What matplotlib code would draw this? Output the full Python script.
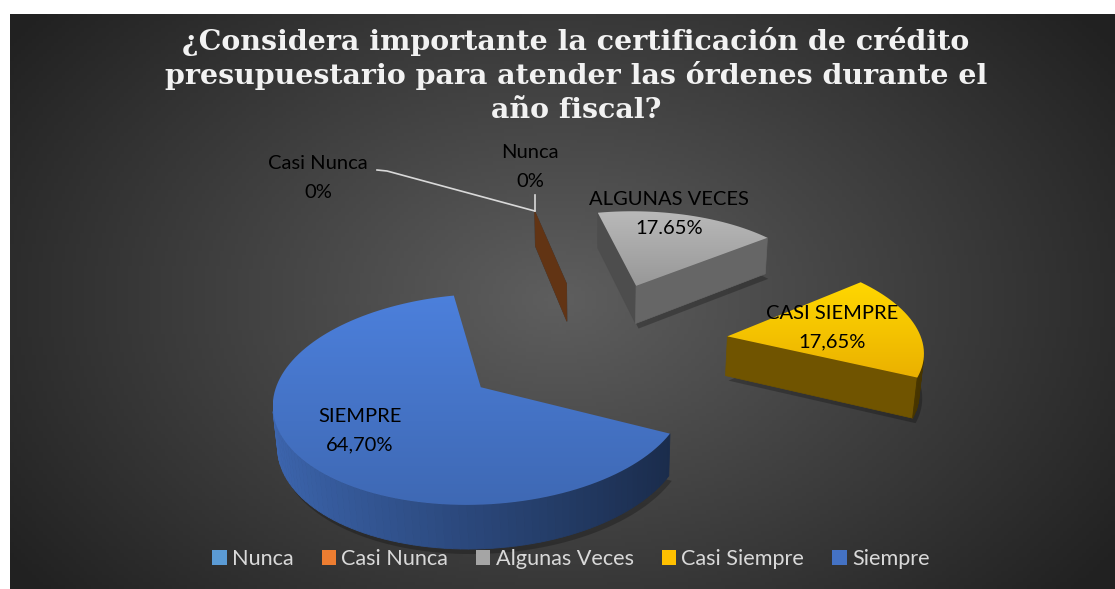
import numpy as np
import matplotlib.pyplot as plt
from matplotlib.patches import Polygon, Rectangle
from matplotlib.colors import to_rgb

# chart data
title_lines = ['¿Considera importante la certificación de crédito',
               'presupuestario para atender las órdenes durante el',
               'año fiscal?']
categories = ['Nunca', 'Casi Nunca', 'Algunas Veces', 'Casi Siempre', 'Siempre']
values = [0.0, 0.0, 17.65, 17.65, 64.70]
point_labels = ['Nunca\n0%', 'Casi Nunca\n0%', 'ALGUNAS VECES\n17.65%',
                'CASI SIEMPRE\n17,65%', 'SIEMPRE\n64,70%']
colors = ['#5B9BD5', '#ED7D31', '#A5A5A5', '#FFC000', '#4472C4']
explode = [0.70, 0.70, 0.70, 0.70, 0.70]
side_shade = [0.55, 0.55, 0.62, 0.44, 0.6]

# 3d view (pixel units of the 1115x589 canvas)
W, H = 1115, 589
CX, CY = 593, 344
SCALE = 195
ROT = np.radians(-12)
ELEV = np.radians(29)
DIST = 8.0
THICK = 0.235

def project(X, Y, Z):
    v = Y * np.sin(ELEV) + Z * np.cos(ELEV)
    w = Y * np.cos(ELEV) - Z * np.sin(ELEV)
    f = DIST / (DIST + w)
    return CX + SCALE * X * f, CY - SCALE * v * f

def direction(phi):
    a = np.radians(phi) + ROT
    return np.sin(a), np.cos(a)

cam = np.array([0.0, -DIST * np.cos(ELEV), DIST * np.sin(ELEV)])

def visible(normal, point):
    return np.dot(normal, cam - np.asarray(point)) > 0

def shade(c, k):
    return tuple(np.clip(np.array(to_rgb(c)) * k, 0, 1))

fig = plt.figure(figsize=(W / 100, H / 100), dpi=100, facecolor='white')
ax = fig.add_axes([0, 0, 1, 1])
ax.set_xlim(0, W)
ax.set_ylim(H, 0)
ax.axis('off')

# dark radial background of the chart area
gx, gy = np.meshgrid(np.linspace(10, W, 300), np.linspace(14, H, 160))
r = np.sqrt(((gx - 560) / 620) ** 2 + ((gy - 300) / 420) ** 2)
g = np.clip(0.37 - 0.22 * r, 0.13, 0.4)
ax.imshow(np.dstack([g, g, g]), extent=[10, W, H, 14], aspect='auto', zorder=0)

def grad_fill(pts, c_top, c_bot, z):
    poly = Polygon(pts, closed=True, facecolor='none', edgecolor='none', zorder=z)
    ax.add_patch(poly)
    y0, y1 = pts[:, 1].min(), pts[:, 1].max()
    t = np.linspace(0, 1, 64)[:, None]
    img = (1 - t) * np.array(to_rgb(c_top)) + t * np.array(to_rgb(c_bot))
    img = np.repeat(img[:, None, :], 2, axis=1)
    im = ax.imshow(img, extent=[pts[:, 0].min(), pts[:, 0].max(), y1, y0],
                   aspect='auto', zorder=z, interpolation='bilinear')
    im.set_clip_path(poly)

total = sum(values)
bounds = np.concatenate([[0], np.cumsum(values)]) / total * 360

slices = []
for i, cat in enumerate(categories):
    a0, a1 = bounds[i], bounds[i + 1]
    ox, oy = np.array(direction((a0 + a1) / 2)) * explode[i]
    angs = np.linspace(a0, a1, max(2, int((a1 - a0) / 2)))
    rim = np.array([direction(a) for a in angs]) + [ox, oy]
    depth = np.mean(np.r_[rim[:, 1], oy])
    slices.append((depth, i, a0, a1, ox, oy, angs, rim))

z = 2
for depth, i, a0, a1, ox, oy, angs, rim in sorted(slices, key=lambda s: -s[0]):
    c = colors[i]
    k = side_shade[i]
    # soft shadow under the slice
    base = [project(x, y, -THICK) for x, y in np.r_[[[ox, oy]], rim]]
    sh = np.array(base) + [3, 5]
    ax.add_patch(Polygon(sh, closed=True, facecolor='black', alpha=0.25,
                         edgecolor='none', zorder=z))
    z += 1
    # radial walls
    for a, sgn in ((a0, -1), (a1, 1)):
        dx, dy = direction(a)
        tx, ty = dy, -dx
        n = np.array([sgn * tx, sgn * ty, 0])
        p_out = (ox + dx, oy + dy)
        mid = (ox + dx / 2, oy + dy / 2, -THICK / 2)
        if visible(n, mid):
            quad = [project(ox, oy, 0), project(*p_out, 0),
                    project(*p_out, -THICK), project(ox, oy, -THICK)]
            kk = k if sgn > 0 else k * 0.75
            ax.add_patch(Polygon(quad, closed=True, facecolor=shade(c, kk),
                                 edgecolor=shade(c, kk), lw=0.5, zorder=z))
    z += 1
    # outer wall
    for j in range(len(angs) - 1):
        am = (angs[j] + angs[j + 1]) / 2
        nx, ny = direction(am)
        p = (ox + nx, oy + ny, -THICK / 2)
        if visible(np.array([nx, ny, 0]), p):
            quad = [project(*rim[j], 0), project(*rim[j + 1], 0),
                    project(*rim[j + 1], -THICK), project(*rim[j], -THICK)]
            kk = k * (1.05 - 0.45 * nx)
            ax.add_patch(Polygon(quad, closed=True, facecolor=shade(c, kk),
                                 edgecolor=shade(c, kk), lw=0.6, zorder=z))
    z += 1
    # top face
    if a1 > a0:
        top = np.array([project(ox, oy, 0)] + [project(x, y, 0) for x, y in rim])
        grad_fill(top, shade(c, 1.12), shade(c, 0.92), z)
    z += 1

ax.set_xlim(0, W)
ax.set_ylim(H, 0)

# title
for line, y in zip(title_lines, [42, 76, 110]):
    ax.text(576, y, line, ha='center', va='center', color='#F2F2F2',
            fontsize=20.5, fontweight='bold', family='DejaVu Serif', zorder=50)

# data labels
lab_font = dict(ha='center', va='center', color='black', fontsize=14.5,
                family='Lato', linespacing=1.8, zorder=50)
label_pos = [(530, 167), (318, 178), (669, 214), (832, 328), (360, 431)]
for txt, (x, y) in zip(point_labels, label_pos):
    ax.text(x, y, txt, **lab_font)

# leader lines to the 0% slices
ox, oy = np.array(direction(0)) * explode[1]
dx, dy = direction(0)
px, py = project(ox + dx, oy + dy, 0)
ax.plot([377, 387, px], [170, 171, py], color='#D9D9D9', lw=1.2, zorder=49)
ax.plot([px, px], [195, py], color='#D9D9D9', lw=1.2, zorder=49)

# legend
handles = [Rectangle((0, 0), 1, 1, facecolor=c, edgecolor='none') for c in colors]
leg = fig.legend(handles, categories, loc='center', bbox_to_anchor=(571 / W, 1 - 559 / H),
                 ncol=5, frameon=False, handlelength=0.65, handleheight=0.65,
                 handletextpad=0.25, columnspacing=1.3,
                 prop={'family': 'Lato', 'size': 15.6})
for t in leg.get_texts():
    t.set_color('#D9D9D9')

fig.savefig('out.png', dpi=100, facecolor='white')
